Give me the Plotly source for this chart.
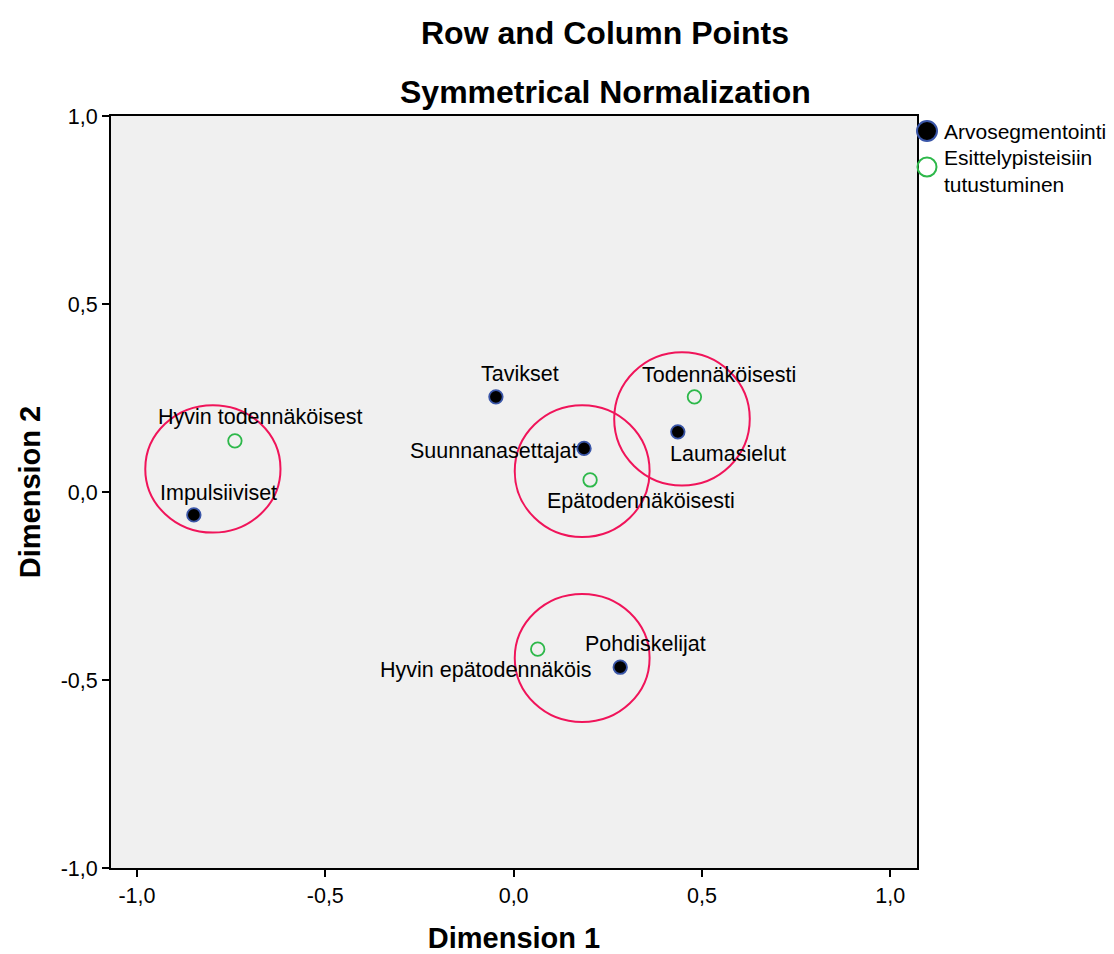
import plotly.graph_objects as go

# ---- data ----
row_labels = ["Tavikset", "Suunnanasettajat", "Laumasielut", "Impulsiiviset", "Pohdiskelijat"]
row_dim1 = [-0.047, 0.187, 0.436, -0.849, 0.283]
row_dim2 = [0.253, 0.116, 0.160, -0.061, -0.466]

col_labels = ["Hyvin todennäköisest", "Todennäköisesti", "Epätodennäköisesti", "Hyvin epätodennäköis"]
col_dim1 = [-0.740, 0.480, 0.203, 0.064]
col_dim2 = [0.136, 0.253, 0.032, -0.418]

row_series_name = "Arvosegmentointi"
col_series_name_lines = ["Esittelypisteisiin", "tutustuminen"]

# label offsets in pixels (dx, dy: screen; dy positive = down)
row_label_dx = [24, -91, 50, 25, 25]
row_label_dy = [-23, 3, 22, -22, -23]
col_label_dx = [25, 25, 51, -52]
col_label_dy = [-24, -22, 21, 21]

# highlight circles (data-space bounding boxes)
circ_x0 = [-0.978, 0.003, 0.267, 0.003]
circ_x1 = [-0.619, 0.361, 0.627, 0.361]
circ_y0 = [-0.108, -0.120, 0.017, -0.612]
circ_y1 = [0.231, 0.231, 0.372, -0.271]

tick_vals = [-1.0, -0.5, 0.0, 0.5, 1.0]
tick_text = ["-1,0", "-0,5", "0,0", "0,5", "1,0"]

FONT = "Liberation Sans, Arial, sans-serif"
ROW_FILL, ROW_EDGE, COL_EDGE, CIRC = "black", "#3A56A8", "#2DB84A", "#F0145A"

# plot area (screen px): left 111, right 917, top 116, bottom 868
PL, PR, PT, PB = 111, 917, 116, 868
def px(X):
    return (X - PL) / (PR - PL)
def py(Y):
    return (PB - Y) / (PB - PT)

fig = go.Figure()
fig.add_trace(go.Scatter(
    x=row_dim1, y=row_dim2, mode="markers", name=row_series_name, showlegend=False,
    marker=dict(symbol="circle", size=13.5, color=ROW_FILL,
                line=dict(color=ROW_EDGE, width=1.8)),
))
fig.add_trace(go.Scatter(
    x=col_dim1, y=col_dim2, mode="markers", name=" ".join(col_series_name_lines), showlegend=False,
    marker=dict(symbol="circle", size=13.5, color="rgba(0,0,0,0)",
                line=dict(color=COL_EDGE, width=1.8)),
))

for x0, x1, y0, y1 in zip(circ_x0, circ_x1, circ_y0, circ_y1):
    fig.add_shape(type="circle", xref="x", yref="y", x0=x0, x1=x1, y0=y0, y1=y1,
                  line=dict(color=CIRC, width=2))

for lab, x, y, dx, dy in zip(row_labels + col_labels, row_dim1 + col_dim1,
                             row_dim2 + col_dim2, row_label_dx + col_label_dx,
                             row_label_dy + col_label_dy):
    fig.add_annotation(x=x, y=y, xref="x", yref="y", text=lab, showarrow=False,
                       xanchor="center", yanchor="middle", xshift=dx, yshift=-dy,
                       font=dict(family=FONT, size=21.5, color="black"))

# titles
fig.add_annotation(text="<b>Row and Column Points</b>", xref="paper", yref="paper",
                   x=px(605), y=py(33), xanchor="center", yanchor="middle",
                   showarrow=False, font=dict(family=FONT, size=32, color="black"))
fig.add_annotation(text="<b>Symmetrical Normalization</b>", xref="paper", yref="paper",
                   x=px(605), y=py(92), xanchor="center", yanchor="middle",
                   showarrow=False, font=dict(family=FONT, size=32, color="black"))

# legend (drawn manually)
fig.add_shape(type="circle", xref="paper", yref="paper", xsizemode="pixel", ysizemode="pixel",
              xanchor=px(927), yanchor=py(131), x0=-10, x1=10, y0=-10, y1=10,
              fillcolor=ROW_FILL, line=dict(color=ROW_EDGE, width=2))
fig.add_shape(type="circle", xref="paper", yref="paper", xsizemode="pixel", ysizemode="pixel",
              xanchor=px(927), yanchor=py(167), x0=-9.5, x1=9.5, y0=-9.5, y1=9.5,
              fillcolor="rgba(0,0,0,0)", line=dict(color=COL_EDGE, width=2))
fig.add_annotation(text=row_series_name, xref="paper", yref="paper", x=px(942), y=py(131),
                   xanchor="left", yanchor="middle", showarrow=False,
                   font=dict(family=FONT, size=21, color="black"))
fig.add_annotation(text="<br>".join(col_series_name_lines), xref="paper", yref="paper",
                   x=px(942), y=py(171), xanchor="left", yanchor="middle", align="left",
                   showarrow=False, font=dict(family=FONT, size=21, color="black"))

axis_common = dict(
    tickvals=tick_vals, ticktext=tick_text, ticks="outside", ticklen=7, tickwidth=2,
    tickcolor="black", showgrid=False, zeroline=False, showline=True, linecolor="black",
    linewidth=2, mirror=True, tickfont=dict(family=FONT, size=21.5, color="black"),
)
fig.update_xaxes(range=[-1.069, 1.071], title=dict(text="<b>Dimension 1</b>",
                 font=dict(family=FONT, size=29, color="black"), standoff=32), **axis_common)
fig.update_yaxes(range=[-1.0, 1.0], title=dict(text="<b>Dimension 2</b>",
                 font=dict(family=FONT, size=29, color="black"), standoff=11), **axis_common)

# page body has an 8px margin: shrink the figure so the plot lands at the same screen spot
fig.update_layout(
    width=1106, height=946,
    margin=dict(l=PL - 8, r=1114 - PR, t=PT - 8, b=954 - PB, autoexpand=False),
    plot_bgcolor="#F0F0F0", paper_bgcolor="white",
    font=dict(family=FONT, color="black"),
    showlegend=False,
)

fig.write_html("out.html")
